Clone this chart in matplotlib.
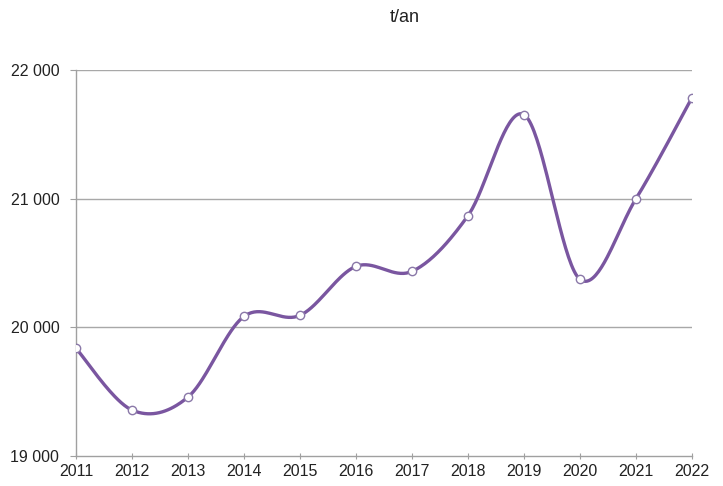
import numpy as np
import matplotlib
matplotlib.use("Agg")
import matplotlib.pyplot as plt
from matplotlib import font_manager
from matplotlib.ticker import FuncFormatter

years = [2011, 2012, 2013, 2014, 2015, 2016, 2017, 2018, 2019, 2020, 2021, 2022]
values = [19837, 19357, 19458, 20085, 20093, 20474, 20435, 20868, 21653, 20373, 21000, 21785]
y_ticks = [19000, 20000, 21000, 22000]

names = {f.name for f in font_manager.fontManager.ttflist}
narrow = 'Liberation Sans Narrow' if 'Liberation Sans Narrow' in names else 'Liberation Sans'
plt.rcParams['font.family'] = [narrow, 'DejaVu Sans']


def smooth(x, y, n=40):
    # courbe lissee type Excel (Catmull-Rom -> Bezier)
    x = np.asarray(x, float)
    y = np.asarray(y, float)
    px = np.concatenate([[x[0]], x, [x[-1]]])
    py = np.concatenate([[y[0]], y, [y[-1]]])
    xs, ys = [], []
    t = np.linspace(0, 1, n)
    for i in range(1, len(px) - 2):
        p0 = np.array([px[i], py[i]])
        p3 = np.array([px[i + 1], py[i + 1]])
        c1 = p0 + (p3 - np.array([px[i - 1], py[i - 1]])) / 6
        c2 = p3 - (np.array([px[i + 2], py[i + 2]]) - p0) / 6
        b = ((1 - t) ** 3)[:, None] * p0 + (3 * (1 - t) ** 2 * t)[:, None] * c1 \
            + (3 * (1 - t) * t ** 2)[:, None] * c2 + (t ** 3)[:, None] * p3
        xs.append(b[:, 0])
        ys.append(b[:, 1])
    return np.concatenate(xs), np.concatenate(ys)


fig = plt.figure(figsize=(7.23, 4.86), dpi=100)
ax = fig.add_axes([76 / 723, 30 / 486, 616 / 723, 386 / 486])

sx, sy = smooth(years, values)
ax.plot(sx, sy, color='#7a56a0', lw=2.4, solid_capstyle='round', zorder=3)
ax.plot(years, values, 'o', ms=6, mfc='white', mec='#8a78a8', mew=1.0, zorder=4)

ax.set_xlim(2011, 2022)
ax.set_ylim(19000, 22000)
ax.set_xticks(years)
ax.set_yticks(y_ticks)
ax.yaxis.set_major_formatter(FuncFormatter(lambda v, p: f"{int(v):,}".replace(",", " ")))

for v in y_ticks[1:]:
    ax.axhline(v, color='#a8a8a8', lw=1, zorder=1)

for s in ['top', 'right']:
    ax.spines[s].set_visible(False)
for s in ['left', 'bottom']:
    ax.spines[s].set_color('#a0a0a0')
    ax.spines[s].set_linewidth(1)
ax.tick_params(axis='both', colors='#a0a0a0', labelcolor='#222222', labelsize=11.5, length=4)
ax.tick_params(axis='x', direction='inout', pad=4)
ax.tick_params(axis='y', direction='out', pad=8)

fig.text(405 / 723, 1 - 18 / 486, 't/an', ha='center', va='center', fontsize=13,
         family=['Liberation Sans', 'DejaVu Sans'], color='#222222')

fig.savefig('out.png', dpi=100)
